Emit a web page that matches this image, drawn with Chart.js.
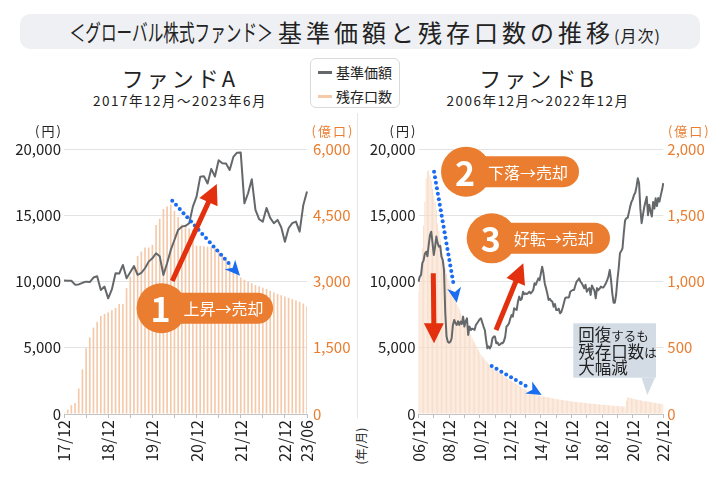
<!DOCTYPE html>
<html lang="ja">
<head>
<meta charset="utf-8">
<script src="https://cdn.jsdelivr.net/npm/chart.js@4.4.1/dist/chart.umd.min.js"></script>
<style>
  body { margin: 0; width: 720px; height: 480px; background: #fff; position: relative; overflow: hidden;
         font-family: 'Noto Sans CJK JP', 'Noto Sans', sans-serif; color: #222; }
  .tbox { position: absolute; left: 20px; top: 14px; width: 680px; height: 35px; background: #eef0f3; border-radius: 10px; }
  .t-left { position: absolute; right: 447px; top: 14px; line-height: 35px; font-size: 23px; white-space: nowrap;
            transform: scaleX(0.68); transform-origin: right center; }
  .t-main { position: absolute; left: 278px; top: 14px; line-height: 35px; font-size: 24px; letter-spacing: 4px; white-space: nowrap; }
  .t-main span { font-size: 16px; letter-spacing: 1px; }
  .sub { position: absolute; width: 300px; text-align: center; white-space: nowrap; }
  .fund { font-size: 22px; letter-spacing: 3px; line-height: 26px; top: 64px; }
  .period { font-size: 13.5px; letter-spacing: 1.5px; line-height: 16px; top: 92px; }
  .legend { position: absolute; left: 310px; top: 58px; width: 90px; height: 50px; border: 1px solid #d9d9d9;
            border-radius: 6px; box-sizing: border-box; background: #fff; }
  .legend div { position: absolute; left: 25px; font-size: 14px; line-height: 16px; white-space: nowrap; }
  .legend i { position: absolute; left: 7px; width: 14px; height: 3px; }
  .sep { position: absolute; left: 357px; top: 113px; width: 1px; height: 305px; background: #e6e6e6; }
  .unit { position: absolute; left: 331px; top: 438px; width: 60px; height: 16px; line-height: 16px; font-size: 12px;
          text-align: center; transform: rotate(-90deg); }
  canvas { position: absolute; top: 110px; }
</style>
</head>
<body>
<div class="tbox"></div>
<div class="t-left">＜グローバル株式ファンド＞</div>
<div class="t-main">基準価額と残存口数の推移<span>(月次)</span></div>

<div class="sub fund" style="left:30px">ファンドA</div>
<div class="sub period" style="left:30px">2017年12月～2023年6月</div>
<div class="sub fund" style="left:388px">ファンドB</div>
<div class="sub period" style="left:388px">2006年12月～2022年12月</div>

<div class="legend">
  <i style="top:12px;background:#65686b"></i><div style="top:5px">基準価額</div>
  <i style="top:36px;background:#f6c9a8"></i><div style="top:29px">残存口数</div>
</div>
<div class="sep"></div>
<div class="unit">(年/月)</div>

<canvas id="chartA" width="360" height="370" style="left:0"></canvas>
<canvas id="chartB" width="360" height="370" style="left:360px"></canvas>

<script>
// 月ラベル（yy/mm）を作る
function makeMonths(year, month, count) {
    const out = [];
    for (let i = 0; i < count; i++) {
        out.push(String(year % 100).padStart(2, '0') + '/' + String(month).padStart(2, '0'));
        month++;
        if (month > 12) { month = 1; year++; }
    }
    return out;
}

const monthsA = makeMonths(2017, 12, 67);
const monthsB = makeMonths(2006, 12, 193);

const tickLabelsA = ['17/12', '18/12', '19/12', '20/12', '21/12', '22/12', '23/06'];
const tickLabelsB = ['06/12', '08/12', '10/12', '12/12', '14/12', '16/12', '18/12', '20/12', '22/12'];

// ファンドA 基準価額（円）
const priceA = [
    10070, 10050, 10060, 9760, 9780, 9900, 9990, 9960, 10300, 10400,
    9360, 9615, 8730, 9400, 10620, 10600, 11250, 10240, 10700, 11170,
    10500, 10650, 11000, 11500, 11750, 12130, 11900, 10490, 11375, 12380,
    13130, 13890, 14140, 14200, 14400, 15650, 16400, 17900, 17950, 17400,
    18500, 17920, 19150, 18930, 18900, 18420, 19400, 19720, 19730, 15900,
    16660, 17720, 15400, 14700, 14520, 15550, 14800, 14400, 14650, 14100,
    13000, 14020, 14400, 14520, 13760, 15780, 16800
];
// ファンドA 残存口数（億口）
const unitsA = [
    30, 100, 200, 250, 580, 1010, 1490, 1735, 1955, 2090,
    2220, 2265, 2300, 2350, 2400, 2490, 2490, 2850, 3110, 3350,
    3580, 3680, 3770, 3770, 3830, 4280, 4420, 4640, 4700, 4740,
    4600, 4460, 4290, 4250, 4200, 4170, 3810, 3810, 3800, 3790,
    3780, 3750, 3700, 3620, 3500, 3400, 3300, 3180, 3090, 3040,
    3000, 2960, 2920, 2890, 2860, 2830, 2790, 2750, 2720, 2690,
    2660, 2630, 2600, 2570, 2540, 2500, 2440
];

// ファンドB 基準価額（円）
const priceB = [
    9990, 10370, 10500, 11380, 11600, 12100, 12250, 11900, 12760, 13500,
    13760, 12900, 12000, 12630, 13390, 12900, 12630, 12700, 11880, 11630,
    10870, 7600, 5840, 5460, 5380, 5450, 5715, 6720, 7100, 6850,
    6720, 7000, 6720, 6970, 6800, 7350, 6600, 7000, 7220, 5965,
    6600, 6340, 6450, 6400, 6350, 6720, 6850, 7000, 7150, 7220,
    6900, 6600, 6340, 5590, 4960, 5100, 4950, 5150, 5715, 5840,
    5840, 5340, 5400, 5210, 5250, 5350, 5340, 5500, 5840, 6590,
    6700, 6850, 7200, 7475, 7350, 7980, 7900, 7850, 8480, 8860,
    8600, 8700, 9230, 9050, 9100, 9050, 9130, 9230, 9100, 9200,
    9360, 9870, 9750, 10000, 10240, 10100, 10620, 11120, 10620, 9870,
    9500, 9110, 8610, 8700, 8550, 8480, 8100, 8300, 7850, 7850,
    7950, 7600, 7700, 8000, 8360, 8730, 8800, 8800, 8800, 9230,
    9300, 9360, 9360, 9700, 9990, 10100, 10240, 9990, 9870, 9700,
    9490, 9750, 9230, 9400, 9500, 8985, 9700, 9500, 9300, 8730,
    9500, 9350, 9450, 9610, 9550, 9550, 9700, 9870, 10100, 10400,
    10870, 10120, 9110, 8400, 8400, 9000, 10120, 11000, 12130, 12300,
    12500, 13640, 14600, 14770, 14800, 15200, 15650, 16000, 16200, 16530,
    16700, 17160, 17800, 17420, 15500, 14400, 15000, 15600, 16000, 16400,
    15000, 15800, 15300, 14900, 16000, 15500, 16280, 15700, 16300, 16030,
    16500, 16900, 17420
];
// ファンドB 残存口数（億口）
const unitsB = [
    920, 1000, 1100, 1250, 1420, 1600, 1780, 1830, 1840, 1800,
    1760, 1700, 1650, 1600, 1540, 1440, 1380, 1320, 1265, 1210,
    1150, 1100, 1060, 1020, 990, 960, 935, 905, 870, 850,
    830, 810, 790, 765, 745, 725, 705, 685, 665, 640,
    620, 600, 575, 555, 540, 520, 505, 485, 465, 450,
    435, 425, 412, 400, 388, 378, 368, 360, 350, 340,
    332, 326, 320, 314, 308, 302, 294, 286, 280, 273,
    267, 260, 255, 250, 243, 236, 230, 224, 218, 212,
    206, 200, 195, 190, 183, 177, 170, 164, 160, 156,
    152, 149, 146, 143, 140, 138, 136, 134, 132, 130,
    128, 126, 124, 122, 121, 119, 117, 115, 113, 112,
    110, 108, 107, 105, 104, 102, 101, 100, 98, 97,
    95, 94, 92, 91, 90, 88, 87, 86, 86, 85,
    84, 83, 82, 81, 80, 79, 78, 77, 76, 75,
    74, 73, 72, 71, 70, 70, 69, 68, 67, 66,
    65, 64, 63, 62, 62, 61, 60, 59, 58, 58,
    57, 56, 55, 100, 126, 124, 121, 118, 115, 113,
    111, 109, 107, 105, 103, 101, 99, 98, 97, 96,
    95, 93, 91, 89, 87, 85, 83, 82, 80, 79,
    78, 76, 75
];

const ORANGE = '#ea7d2f';
const RED = '#e3300e';
const BLUE = '#1a6cf0';
const FONT = "'Noto Sans CJK JP', 'Noto Sans', sans-serif";

Chart.defaults.font.family = FONT;
Chart.defaults.color = '#222';

function pt(chart, m, v) {
    return { x: chart.scales.x.getPixelForValue(m), y: chart.scales.y.getPixelForValue(v) };
}

function dottedArrow(ctx, a, b) {
    const dx = b.x - a.x, dy = b.y - a.y, len = Math.hypot(dx, dy);
    const ux = dx / len, uy = dy / len;
    const head = 15, hw = 7;
    ctx.fillStyle = BLUE;
    for (let d = 0; d <= len - head - 2; d += 5.6) {
        ctx.beginPath();
        ctx.arc(a.x + ux * d, a.y + uy * d, 2, 0, Math.PI * 2);
        ctx.fill();
    }
    const bx = b.x - ux * head, by = b.y - uy * head;
    ctx.beginPath();
    ctx.moveTo(b.x, b.y);
    ctx.lineTo(bx - uy * hw, by + ux * hw);
    ctx.lineTo(b.x - ux * head * 0.72, b.y - uy * head * 0.72);
    ctx.lineTo(bx + uy * hw, by - ux * hw);
    ctx.closePath();
    ctx.fill();
}

function solidArrow(ctx, a, b) {
    const dx = b.x - a.x, dy = b.y - a.y, len = Math.hypot(dx, dy);
    const ux = dx / len, uy = dy / len;
    const head = 20, hw = 10;
    const bx = b.x - ux * head, by = b.y - uy * head;
    ctx.strokeStyle = RED;
    ctx.lineWidth = 5;
    ctx.beginPath();
    ctx.moveTo(a.x, a.y);
    ctx.lineTo(bx + ux * 2, by + uy * 2);
    ctx.stroke();
    ctx.fillStyle = RED;
    ctx.beginPath();
    ctx.moveTo(b.x, b.y);
    ctx.lineTo(bx - uy * hw, by + ux * hw);
    ctx.lineTo(bx + uy * hw, by - ux * hw);
    ctx.closePath();
    ctx.fill();
}

function badge(ctx, c, rightX, num, text) {
    const h = 31, r = h / 2;
    ctx.fillStyle = ORANGE;
    ctx.beginPath();
    ctx.moveTo(c.x, c.y - r);
    ctx.lineTo(rightX - r, c.y - r);
    ctx.arc(rightX - r, c.y, r, -Math.PI / 2, Math.PI / 2);
    ctx.lineTo(c.x, c.y + r);
    ctx.closePath();
    ctx.fill();
    ctx.beginPath();
    ctx.arc(c.x, c.y, 25, 0, Math.PI * 2);
    ctx.fill();
    ctx.fillStyle = '#fff';
    ctx.textBaseline = 'middle';
    ctx.textAlign = 'center';
    ctx.font = 'bold 34px ' + FONT;
    ctx.fillText(num, c.x - 1, c.y + 1);
    ctx.textAlign = 'left';
    ctx.font = '16px ' + FONT;
    ctx.fillText(text, c.x + 22, c.y + 1);
}

function axisUnits(ctx, area) {
    ctx.save();
    ctx.font = '13px ' + FONT;
    ctx.letterSpacing = '2px';
    ctx.textAlign = 'center';
    ctx.textBaseline = 'middle';
    ctx.fillStyle = '#222';
    ctx.fillText('(円)', area.left - 15, area.top - 18);
    ctx.fillStyle = ORANGE;
    ctx.fillText('(億口)', area.right + 26, area.top - 18);
    ctx.restore();
}

// 注記（データ座標: 月インデックスと基準価額）
const notesA = {
    down: [[29.4, 16100], [47.8, 10440]],
    up: [[29.4, 10040], [41.5, 17360]],
    badge: { at: [26.5, 7980], right: 56.8, num: '1', text: '上昇→売却' }
};

const notesB = {
    dots: [[[12.2, 18290], [30.0, 8400]], [[57.4, 3620], [96.6, 1430]]],
    arrows: [[[11.6, 10620], [12.2, 5340]], [[60.8, 6340], [82.2, 11370]]],
    badges: [
        { at: [37.3, 18290], right: 125.9, num: '2', text: '下落→売却' },
        { at: [57.4, 13260], right: 150.2, num: '3', text: '好転→売却' }
    ],
    box: { left: 121.4, right: 186.3, top: 6845, bottom: 2740, tip: [179.5, 1430], base: [175, 185.5] }
};

const notesPluginA = {
    id: 'notesA',
    afterDraw(chart) {
        const ctx = chart.ctx;
        ctx.save();
        axisUnits(ctx, chart.chartArea);
        dottedArrow(ctx, pt(chart, ...notesA.down[0]), pt(chart, ...notesA.down[1]));
        solidArrow(ctx, pt(chart, ...notesA.up[0]), pt(chart, ...notesA.up[1]));
        const b = notesA.badge;
        badge(ctx, pt(chart, ...b.at), chart.scales.x.getPixelForValue(b.right), b.num, b.text);
        ctx.restore();
    }
};

const notesPluginB = {
    id: 'notesB',
    afterDraw(chart) {
        const ctx = chart.ctx;
        const xs = chart.scales.x, ys = chart.scales.y;
        ctx.save();
        axisUnits(ctx, chart.chartArea);
        notesB.dots.forEach(d => dottedArrow(ctx, pt(chart, ...d[0]), pt(chart, ...d[1])));
        notesB.arrows.forEach(d => solidArrow(ctx, pt(chart, ...d[0]), pt(chart, ...d[1])));
        notesB.badges.forEach(b => badge(ctx, pt(chart, ...b.at), xs.getPixelForValue(b.right), b.num, b.text));

        // 吹き出し
        const bx = notesB.box;
        const l = xs.getPixelForValue(bx.left), r = xs.getPixelForValue(bx.right);
        const t = ys.getPixelForValue(bx.top), btm = ys.getPixelForValue(bx.bottom);
        const tip = pt(chart, ...bx.tip);
        ctx.fillStyle = '#d3dbe5';
        ctx.fillRect(l, t, r - l, btm - t);
        ctx.beginPath();
        ctx.moveTo(xs.getPixelForValue(bx.base[0]), btm);
        ctx.lineTo(tip.x, tip.y);
        ctx.lineTo(xs.getPixelForValue(bx.base[1]), btm);
        ctx.closePath();
        ctx.fill();

        ctx.fillStyle = '#222';
        ctx.textAlign = 'left';
        ctx.textBaseline = 'alphabetic';
        const lines = [[['回復', 16.5], ['するも', 12.5]], [['残存口数', 16.5], ['は', 12.5]], [['大幅減', 16.5]]];
        lines.forEach((parts, i) => {
            let x = l + 5;
            const y = t + 18 + i * 16.5;
            parts.forEach(p => {
                ctx.font = p[1] + 'px ' + FONT;
                ctx.fillText(p[0], x, y);
                x += ctx.measureText(p[0]).width;
            });
        });
        ctx.restore();
    }
};

function buildChart(id, labels, price, units, unitsMax, unitsStep, tickLabels, tickEvery, sizes) {
    return new Chart(document.getElementById(id), {
        type: 'bar',
        data: {
            labels: labels,
            datasets: [
                {
                    type: 'line',
                    label: '基準価額',
                    data: price,
                    yAxisID: 'y',
                    order: 0,
                    borderColor: '#65686b',
                    borderWidth: 2,
                    pointRadius: 0,
                    tension: 0,
                    borderJoinStyle: 'round'
                },
                {
                    type: 'bar',
                    label: '残存口数',
                    data: units,
                    yAxisID: 'y2',
                    order: 1,
                    backgroundColor: sizes.barColor,
                    barPercentage: sizes.barPct,
                    categoryPercentage: 1
                }
            ]
        },
        options: {
            responsive: false,
            animation: false,
            layout: { padding: { top: 39, left: 0, right: 0, bottom: 0 } },
            plugins: { legend: { display: false }, tooltip: { enabled: false } },
            scales: {
                x: {
                    offset: false,
                    afterFit: s => { s.height = 66; },
                    grid: { display: true, drawOnChartArea: false, drawTicks: true, tickLength: 4, color: '#bdbdbd', offset: false },
                    border: { display: true, color: '#c4c4c4' },
                    ticks: {
                        autoSkip: false,
                        minRotation: 90,
                        maxRotation: 90,
                        padding: 2,
                        color: '#222',
                        font: { size: 16 },
                        callback: function (v) {
                            const lab = this.getLabelForValue(v);
                            if (tickLabels.includes(lab)) return lab;
                            if (v % tickEvery === 0) return '';
                            return null;
                        }
                    }
                },
                y: {
                    position: 'left',
                    min: 0,
                    max: 20000,
                    afterFit: s => { s.width = sizes.left; },
                    grid: { color: '#e3e3e3', drawTicks: false },
                    border: { display: false },
                    ticks: { stepSize: 5000, padding: 3, color: '#222', font: { size: 15 } }
                },
                y2: {
                    position: 'right',
                    min: 0,
                    max: unitsMax,
                    afterFit: s => { s.width = sizes.right; },
                    grid: { drawOnChartArea: false, drawTicks: false },
                    border: { display: false },
                    ticks: { stepSize: unitsStep, padding: sizes.rightPad, color: ORANGE, font: { size: 15 } }
                }
            }
        },
        plugins: [sizes.notes]
    });
}

buildChart('chartA', monthsA, priceA, unitsA, 6000, 1500, tickLabelsA, 6,
    { left: 64, right: 53, rightPad: 6, barColor: '#f4c9aa', barPct: 0.45, notes: notesPluginA });
buildChart('chartB', monthsB, priceB, unitsB, 2000, 500, tickLabelsB, 12,
    { left: 58.5, right: 56.7, rightPad: 4, barColor: '#f8dcc8', barPct: 0.72, notes: notesPluginB });
</script>
</body>
</html>
